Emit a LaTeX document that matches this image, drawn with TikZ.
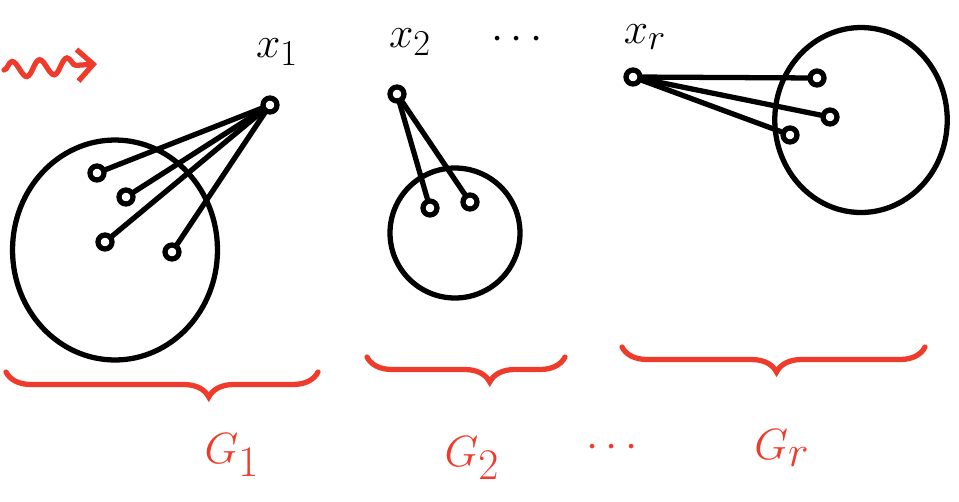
\documentclass[tikz,border=0pt]{standalone}
\usetikzlibrary{shapes.geometric,arrows.meta,decorations.pathreplacing,decorations.pathmorphing}
\definecolor{inkRed}{HTML}{EE3B2B}

\begin{document}
\begin{tikzpicture}[x=0.02cm, y=-0.02cm,
    every node/.style={inner sep=0pt},
    ink/.style={line width=3pt, line cap=round, line join=round},
    vert/.style={circle, draw, ink, minimum size=0.28cm},
    blob/.style={ellipse, draw, ink},
    grp/.style={draw=inkRed, line width=3pt, line cap=round, decorate,
                decoration={brace, mirror, amplitude=0.5cm}},
    xlab/.style={font=\fontsize{32}{36}\selectfont},
    glab/.style={text=inkRed, font=\fontsize{44}{50}\selectfont},
  ]
  \useasboundingbox (0,0) rectangle (959,501);

  % squiggly arrow
  \coordinate (sq0) at (4,70);
  \coordinate (sq1) at (97,64);
  \draw[inkRed, line width=3pt, line cap=round, -{Straight Barb[length=9pt,width=18pt]},
        decorate, decoration={snake, amplitude=0.16cm, segment length=0.55cm, post length=0.35cm}]
    (sq0) -- (sq1);

  % top vertices
  \node[vert] (x1) at (270,105) {};
  \node[vert] (x2) at (397,94) {};
  \node[vert] (xr) at (633,77) {};
  \node[xlab] (l1) at (277,52) {$x_1$};
  \node[xlab] (l2) at (410,42) {$x_2$};
  \node[xlab] (ldots) at (517,40) {$\cdots$};
  \node[xlab] (lr) at (645,37) {$x_r$};

  % components
  \node[blob, minimum width=4.1cm, minimum height=4.4cm] (G1) at (115,250) {};
  \node[blob, minimum width=2.6cm, minimum height=2.6cm] (G2) at (455,233) {};
  \node[blob, minimum width=3.45cm, minimum height=3.7cm] (Gr) at (861,120) {};

  \node[vert] (g1a) at (97,173) {};
  \node[vert] (g1b) at (126,197) {};
  \node[vert] (g1c) at (105,242) {};
  \node[vert] (g1d) at (172,252) {};
  \node[vert] (g2a) at (430,208) {};
  \node[vert] (g2b) at (470,202) {};
  \node[vert] (gra) at (817,78) {};
  \node[vert] (grb) at (830,117) {};
  \node[vert] (grc) at (790,135) {};

  \foreach \v in {a,b,c,d}
    \draw[ink] (x1) -- (g1\v);
  \foreach \v in {a,b}
    \draw[ink] (x2) -- (g2\v);
  \foreach \v in {a,b,c}
    \draw[ink] (xr) -- (gr\v);

  % braces
  \coordinate (b1s) at (6,372);
  \coordinate (b1e) at (318,372);
  \coordinate (b2s) at (367,357);
  \coordinate (b2e) at (565,357);
  \coordinate (brs) at (622,347);
  \coordinate (bre) at (925,347);
  \draw[grp, decoration={aspect=0.65}] (b1s) -- (b1e);
  \draw[grp, decoration={aspect=0.62}] (b2s) -- (b2e);
  \draw[grp, decoration={aspect=0.51}] (brs) -- (bre);

  \node[glab] (lG1) at (232,455) {$G_1$};
  \node[glab] (lG2) at (472,458) {$G_2$};
  \node[glab] (lGdots) at (612,448) {$\cdots$};
  \node[glab] (lGr) at (782,448) {$G_r$};
\end{tikzpicture}
\end{document}
